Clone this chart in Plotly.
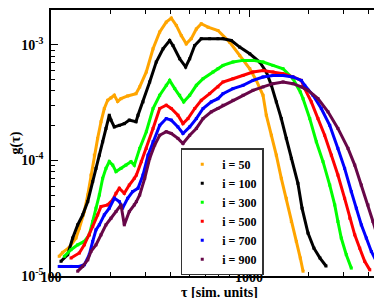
import plotly.graph_objects as go

# ---- data (tau [sim. units], g(tau)) ----
tau_50 = [110, 114.6, 123.7, 133.7, 139, 147.3, 153.3, 159.2, 165.5, 172, 178.9, 185.9, 193.3, 200.9, 208.8,
          217.1, 225.7, 243.9, 268.7, 280.5, 302.9, 327.6, 354, 382, 405, 429.5, 455, 482, 511, 542, 574, 621,
          697, 800, 897, 1009, 1089, 1177, 1223, 1297, 1374, 1456, 1543, 1636, 1734, 1816, 1875]
g_50 = [1.48e-5, 1.60e-5, 1.77e-5, 2.13e-5, 2.59e-5, 3.61e-5, 5.02e-5, 7.47e-5, 1.11e-4, 1.55e-4, 2.16e-4,
        2.81e-4, 3.31e-4, 3.47e-4, 3.66e-4, 3.24e-4, 3.42e-4, 3.61e-4, 3.78e-4, 4.32e-4, 5.82e-4, 9.24e-4,
        1.29e-3, 1.57e-3, 1.70e-3, 1.47e-3, 1.20e-3, 1.02e-3, 1.13e-3, 1.37e-3, 1.52e-3, 1.42e-3, 1.33e-3,
        1.05e-3, 8.09e-4, 6.21e-4, 4.92e-4, 3.66e-4, 2.46e-4, 1.65e-4, 1.11e-4, 7.0e-5, 4.70e-5, 2.96e-5,
        1.99e-5, 1.43e-5, 1.10e-5]

tau_100 = [112.3, 121.4, 128.7, 136.4, 144.6, 153.3, 162.4, 168.7, 175.4, 182.4, 189.5, 197, 200.9, 208.8,
           221.3, 234.5, 248.5, 268.7, 275, 291.5, 315, 340, 368, 397.5, 413, 446.7, 478.6, 501.7, 531.8, 574,
           633, 697, 739, 814, 897, 1009, 1132, 1223, 1297, 1374, 1456, 1543, 1636, 1766, 1853, 1986, 2128,
           2284, 2449]
g_100 = [1.34e-5, 1.53e-5, 2.13e-5, 2.77e-5, 3.38e-5, 4.40e-5, 6.55e-5, 8.53e-5, 1.11e-4, 1.45e-4, 1.89e-4,
         2.46e-4, 2.23e-4, 1.95e-4, 2.01e-4, 2.08e-4, 2.23e-4, 2.16e-4, 2.46e-4, 3.21e-4, 4.77e-4, 7.10e-4,
         9.24e-4, 1.09e-3, 9.86e-4, 7.57e-4, 6.43e-4, 7.57e-4, 9.86e-4, 1.13e-3, 1.13e-3, 1.13e-3, 1.13e-3,
         1.09e-3, 9.55e-4, 8.36e-4, 7.10e-4, 5.82e-4, 4.46e-4, 3.21e-4, 2.30e-4, 1.55e-4, 1.04e-4, 6.34e-5,
         3.86e-5, 2.35e-5, 1.74e-5, 1.43e-5, 1.22e-5]

tau_300 = [116.7, 126.2, 136.4, 147.3, 156.1, 162.4, 168.7, 175.4, 182.4, 189.5, 197, 205, 213, 225.7, 239,
           253.5, 263.5, 280.5, 302.9, 327.6, 354, 382, 397.5, 421.7, 446.7, 468, 501.7, 542, 586, 658, 697,
           739, 830, 933, 1047, 1177, 1321, 1486, 1667, 1816, 1875, 2027, 2188, 2365, 2557, 2710, 2812, 2924,
           3099, 3286]
g_300 = [1.48e-5, 1.69e-5, 1.86e-5, 1.99e-5, 2.27e-5, 2.96e-5, 3.86e-5, 5.02e-5, 7.0e-5, 8.53e-5, 9.75e-5,
         9.10e-5, 8.0e-5, 8.53e-5, 9.10e-5, 9.75e-5, 9.10e-5, 1.27e-4, 1.77e-4, 2.81e-4, 3.66e-4, 4.46e-4,
         4.92e-4, 4.18e-4, 3.66e-4, 3.21e-4, 3.66e-4, 4.46e-4, 5.09e-4, 5.82e-4, 6.21e-4, 6.63e-4, 7.10e-4,
         7.33e-4, 7.33e-4, 7.10e-4, 6.63e-4, 6.21e-4, 5.09e-4, 3.91e-4, 3.42e-4, 2.30e-4, 1.45e-4, 9.75e-5,
         6.12e-5, 4.12e-5, 2.96e-5, 2.13e-5, 1.53e-5, 1.17e-5]

tau_500 = [126.2, 139, 147.3, 156.1, 162.4, 172, 178.9, 193.3, 205, 213, 221.3, 234.5, 248.5, 263.5, 270,
           285.8, 302.9, 327.6, 354, 382, 405, 437.5, 464, 492, 532, 574, 633, 697, 739, 830, 933, 1047, 1177,
           1321, 1486, 1667, 1837, 1911, 2064, 2230, 2410, 2606, 2812, 3041, 3228, 3420, 3624, 3840, 4074]
g_500 = [1.43e-5, 1.58e-5, 1.86e-5, 2.27e-5, 2.68e-5, 3.38e-5, 3.99e-5, 4.12e-5, 4.55e-5, 5.19e-5, 5.74e-5,
         5.19e-5, 6.12e-5, 7.0e-5, 7.47e-5, 9.75e-5, 1.27e-4, 1.89e-4, 2.81e-4, 3.0e-4, 2.81e-4, 2.46e-4,
         2.08e-4, 2.30e-4, 2.81e-4, 3.31e-4, 3.78e-4, 4.32e-4, 4.77e-4, 5.09e-4, 5.43e-4, 5.82e-4, 6.0e-4,
         5.82e-4, 5.62e-4, 5.27e-4, 4.92e-4, 4.18e-4, 3.21e-4, 2.30e-4, 1.65e-4, 1.11e-4, 7.47e-5, 4.70e-5,
         3.16e-5, 2.27e-5, 1.74e-5, 1.34e-5, 1.13e-5]

tau_700 = [110, 126.2, 139, 147.3, 156.1, 162.4, 168.7, 175.4, 185.9, 197, 208.8, 221.3, 230, 243.9, 258.4,
           275, 291.5, 309.1, 327.6, 354, 382, 405, 437.5, 464, 501.7, 542, 586, 645, 697, 739, 830, 933, 1047,
           1177, 1321, 1486, 1667, 1837, 1911, 2104, 2318, 2557, 2812, 3041, 3286, 3483, 3692, 3912, 4148, 4487]
g_700 = [1.21e-5, 1.21e-5, 1.21e-5, 1.25e-5, 1.53e-5, 1.99e-5, 2.51e-5, 2.77e-5, 3.38e-5, 3.86e-5, 4.70e-5,
         4.40e-5, 3.86e-5, 4.70e-5, 5.37e-5, 5.74e-5, 7.47e-5, 1.11e-4, 1.45e-4, 2.01e-4, 2.30e-4, 2.23e-4,
         1.95e-4, 1.71e-4, 1.95e-4, 2.30e-4, 2.81e-4, 3.21e-4, 3.42e-4, 3.78e-4, 4.18e-4, 4.46e-4, 4.92e-4,
         5.27e-4, 5.43e-4, 5.43e-4, 5.27e-4, 4.92e-4, 4.46e-4, 3.66e-4, 2.81e-4, 2.01e-4, 1.27e-4, 8.53e-5,
         5.37e-5, 3.86e-5, 2.77e-5, 2.13e-5, 1.63e-5, 1.25e-5]

tau_900 = [136.4, 144.6, 153.3, 159.2, 168.7, 178.9, 189.5, 200.9, 213, 225.7, 234.5, 248.5, 263.5, 270,
           280.5, 297.4, 315, 334, 354, 382, 405, 437.5, 464, 501.7, 542, 586, 645, 697, 739, 830, 933, 1047,
           1177, 1321, 1486, 1667, 1837, 1986, 2230, 2506, 2812, 3162, 3420, 3692, 3990, 4227, 4487, 4753, 5035]
g_900 = [1.10e-5, 1.21e-5, 1.38e-5, 1.63e-5, 1.86e-5, 2.27e-5, 2.77e-5, 3.16e-5, 3.61e-5, 4.12e-5, 2.77e-5,
         3.61e-5, 4.12e-5, 4.40e-5, 5.02e-5, 7.0e-5, 1.04e-4, 1.36e-4, 1.65e-4, 1.77e-4, 1.71e-4, 1.55e-4,
         1.40e-4, 1.65e-4, 1.89e-4, 2.30e-4, 2.63e-4, 2.81e-4, 3.0e-4, 3.31e-4, 3.66e-4, 4.04e-4, 4.32e-4,
         4.61e-4, 4.77e-4, 4.61e-4, 4.32e-4, 4.04e-4, 3.42e-4, 2.63e-4, 1.89e-4, 1.27e-4, 9.10e-5, 6.12e-5,
         4.12e-5, 2.96e-5, 2.13e-5, 1.53e-5, 1.17e-5]

labels = ["i = 50", "i = 100", "i = 300", "i = 500", "i = 700", "i = 900"]
colors = ["#FFA500", "#000000", "#00FF00", "#FF0000", "#0000FF", "#670748"]
series = [(tau_50, g_50), (tau_100, g_100), (tau_300, g_300),
          (tau_500, g_500), (tau_700, g_700), (tau_900, g_900)]

# tick values
x_major = [100, 1000]
x_major_text = ["100", "1000"]
x_minor = [200, 300, 400, 500, 600, 700, 800, 900, 2000, 3000, 4000, 5000]
y_major = [1e-5, 1e-4, 1e-3]
y_major_text = ["10<sup>-5</sup>", "10<sup>-4</sup>", "10<sup>-3</sup>"]
y_minor = [m * d for d in (1e-5, 1e-4, 1e-3) for m in range(2, 10)]

FONT = "Liberation Serif, Times New Roman, serif"

fig = go.Figure()
for (t, g), lab, col in zip(series, labels, colors):
    fig.add_trace(go.Scatter(x=t, y=g, mode="lines", line=dict(color=col, width=3),
                             showlegend=False, hoverinfo="skip"))
    fig.add_trace(go.Scatter(x=t, y=g, mode="markers", name=lab,
                             marker=dict(color=col, size=3, symbol="square")))

axis_common = dict(
    type="log", showgrid=False, zeroline=False, automargin=False,
    showline=True, linecolor="black", linewidth=1.5, mirror="ticks",
    ticks="inside", ticklen=7, tickwidth=1, tickcolor="black", tickmode="array",
    tickfont=dict(family=FONT, size=14, color="black", weight="bold"),
)

fig.update_xaxes(**axis_common, range=[2, 3.702], tickvals=x_major, ticktext=x_major_text,
                 ticklabelstandoff=-13,
                 minor=dict(ticks="inside", ticklen=4, tickwidth=1, tickcolor="black",
                            tickvals=x_minor, showgrid=False),
                 title=dict(text="τ [sim. units]", standoff=0,
                            font=dict(family=FONT, size=14, color="black", weight="bold")))
fig.update_yaxes(**axis_common, range=[-5, -2.699], tickvals=y_major, ticktext=y_major_text,
                 ticklabelstandoff=3,
                 minor=dict(ticks="inside", ticklen=4, tickwidth=1, tickcolor="black",
                            tickvals=y_minor, showgrid=False),
                 title=dict(text="g(τ)", standoff=2,
                            font=dict(family=FONT, size=14, color="black", weight="bold")))

fig.update_layout(
    width=382, height=298,
    margin=dict(l=43, r=2, t=2, b=30),
    paper_bgcolor="white", plot_bgcolor="white",
    legend=dict(x=0.385, y=0.48, xanchor="left", yanchor="top",
                bgcolor="white", bordercolor="#333333", borderwidth=1.5,
                font=dict(family=FONT, size=12, color="black", weight="bold"),
                itemwidth=30, tracegroupgap=0),
)

fig.write_html("out.html")
